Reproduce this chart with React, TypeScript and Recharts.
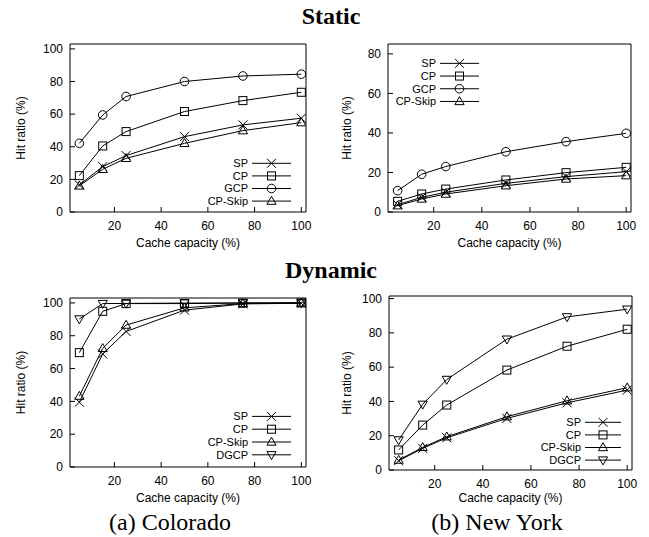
import React from 'react'
import { LineChart, Line, XAxis, YAxis, Legend } from 'recharts'

// cache capacity (%) on the x axis, shared by all four panels
const capacity = [5, 15, 25, 50, 75, 100]
const xTicks = [20, 40, 60, 80, 100]
const yTicks100 = [0, 20, 40, 60, 80, 100]
const yTicks80 = [0, 10, 20, 30, 40, 50, 60, 70, 80]

// Static, Colorado
const staticCoSP = [16.6, 27.8, 34.6, 46.2, 53.4, 57.5]
const staticCoCP = [22.3, 40.5, 49.3, 61.6, 68.3, 73.4]
const staticCoGCP = [42.1, 59.5, 70.8, 80.0, 83.4, 84.5]
const staticCoSkip = [16.0, 26.2, 32.9, 42.1, 49.9, 54.8]

// Static, New York
const staticNySP = [3.7, 7.4, 10.0, 14.5, 17.9, 20.4]
const staticNyCP = [5.4, 9.1, 11.6, 16.2, 19.9, 22.6]
const staticNyGCP = [10.8, 19.1, 23.0, 30.5, 35.6, 39.8]
const staticNySkip = [3.2, 6.6, 9.1, 13.3, 16.7, 18.4]

// Dynamic, Colorado
const dynCoSP = [39.5, 68.9, 82.6, 95.6, 99.4, 99.8]
const dynCoCP = [69.7, 94.9, 99.6, 99.6, 99.9, 100]
const dynCoSkip = [43.2, 72.3, 86.5, 97.0, 99.6, 100]
const dynCoDGCP = [90.2, 99.6, 99.7, 99.9, 100, 100]

// Dynamic, New York
const dynNySP = [5.4, 12.6, 18.8, 30.1, 39.2, 46.6]
const dynNyCP = [11.7, 26.2, 37.9, 58.3, 72.2, 82.1]
const dynNySkip = [5.8, 13.2, 19.4, 31.1, 40.4, 48.0]
const dynNyDGCP = [17.5, 38.3, 52.8, 76.3, 89.3, 93.8]

type Shape = 'cross' | 'square' | 'circle' | 'up' | 'down'

interface Series {
  name: string
  values: number[]
  shape: Shape
}

const SANS = '"Liberation Sans", Arial, Helvetica, sans-serif'
const SERIF = '"Liberation Serif", "Times New Roman", serif'

function Marker({ shape, cx, cy }: { shape: Shape; cx: number; cy: number }) {
  const common = { stroke: '#000', strokeWidth: 1, fill: 'none' }
  switch (shape) {
    case 'cross':
      return (
        <path
          d={`M${cx - 4.5},${cy - 4.5}L${cx + 4.5},${cy + 4.5}M${cx - 4.5},${cy + 4.5}L${cx + 4.5},${cy - 4.5}`}
          {...common}
        />
      )
    case 'square':
      return <rect x={cx - 4} y={cy - 4} width={8} height={8} {...common} />
    case 'circle':
      return <circle cx={cx} cy={cy} r={4.3} {...common} />
    case 'up':
      return <path d={`M${cx},${cy - 4.8}L${cx + 4.6},${cy + 3.2}L${cx - 4.6},${cy + 3.2}Z`} {...common} />
    case 'down':
      return <path d={`M${cx},${cy + 4.8}L${cx + 4.6},${cy - 3.2}L${cx - 4.6},${cy - 3.2}Z`} {...common} />
  }
}

function LegendSvg({ series, textW, lineLen, rowH }: { series: Series[]; textW: number; lineLen: number; rowH: number }) {
  const w = textW + 4 + lineLen
  return (
    <svg width={w} height={rowH * series.length} style={{ display: 'block', overflow: 'visible' }}>
      {series.map((s, i) => {
        const cy = rowH * (i + 0.5)
        return (
          <g key={s.name}>
            <text x={textW} y={cy} dy="0.36em" textAnchor="end" fontSize={11} fontFamily={SANS} fill="#000">
              {s.name}
            </text>
            <line x1={textW + 4} x2={w} y1={cy} y2={cy} stroke="#000" strokeWidth={1} />
            <Marker shape={s.shape} cx={textW + 4 + lineLen / 2} cy={cy} />
          </g>
        )
      })}
    </svg>
  )
}

interface PanelProps {
  left: number
  top: number
  width: number
  height: number
  plot: { x0: number; y0: number; x1: number; y1: number }
  yDomain: [number, number]
  yTicks: number[]
  yLabelX: number
  series: Series[]
  legend: { textRight: number; firstRow: number; rowH: number; lineLen: number }
}

function Panel({ left, top, width, height, plot, yDomain, yTicks, yLabelX, series, legend }: PanelProps) {
  const data = capacity.map((x, i) => {
    const row: Record<string, number> = { x }
    series.forEach((s) => {
      row[s.name] = s.values[i]
    })
    return row
  })
  const textW = 48
  // gnuplot style: ticks point inwards, full box with mirrored ticks
  const axisProps = { stroke: '#000', allowDataOverflow: true, tickSize: -5 }
  return (
    <div style={{ position: 'absolute', left, top }}>
      <LineChart
        width={width}
        height={height}
        data={data}
        margin={{ top: plot.y0 - top - 1, right: left + width - plot.x1 - 1, bottom: 0, left: 0 }}
        style={{ fontFamily: SANS }}
      >
        <XAxis
          xAxisId="b"
          dataKey="x"
          type="number"
          domain={[1, 102]}
          ticks={xTicks}
          height={top + height - plot.y1}
          tickMargin={14}
          tick={{ fill: '#000', fontSize: 12 }}
          label={{ value: 'Cache capacity (%)', position: 'insideBottom', offset: 3, fill: '#000', fontSize: 12 }}
          {...axisProps}
        />
        <XAxis xAxisId="t" orientation="top" type="number" domain={[1, 102]} ticks={xTicks} height={1} tick={false} {...axisProps} />
        <YAxis
          yAxisId="l"
          type="number"
          domain={yDomain}
          ticks={yTicks}
          width={plot.x0 - left}
          tickMargin={12}
          tick={{ fill: '#000', fontSize: 12 }}
          label={{
            value: 'Hit ratio (%)',
            angle: -90,
            position: 'insideLeft',
            offset: yLabelX - left,
            fill: '#000',
            fontSize: 12,
            style: { textAnchor: 'middle' },
          }}
          {...axisProps}
        />
        <YAxis yAxisId="r" orientation="right" type="number" domain={yDomain} ticks={yTicks} width={1} tick={false} {...axisProps} />
        {series.map((s) => (
          <Line
            key={s.name}
            xAxisId="b"
            yAxisId="l"
            dataKey={s.name}
            type="linear"
            stroke="#000"
            strokeWidth={1}
            isAnimationActive={false}
            activeDot={false}
            dot={(p: any) => <Marker key={`${s.name}-${p.index}`} shape={s.shape} cx={p.cx} cy={p.cy} />}
          />
        ))}
        <Legend
          layout="vertical"
          align="center"
          verticalAlign="middle"
          wrapperStyle={{
            left: legend.textRight - textW - left,
            top: legend.firstRow - legend.rowH / 2 - top,
            width: 'auto',
            height: 'auto',
          }}
          content={() => <LegendSvg series={series} textW={textW} lineLen={legend.lineLen} rowH={legend.rowH} />}
        />
      </LineChart>
    </div>
  )
}

export default function App() {
  return (
    <div style={{ position: 'absolute', left: 0, top: 0, width: 649, height: 537, background: '#fff', overflow: 'hidden' }}>
      <svg width={649} height={537} style={{ position: 'absolute', left: 0, top: 0 }}>
        <g fontFamily={SERIF} fill="#000" textAnchor="middle">
          <text x={331} y={24} fontSize={24} fontWeight="bold">Static</text>
          <text x={331} y={278} fontSize={24} fontWeight="bold">Dynamic</text>
          <text x={170} y={530} fontSize={24}>(a) Colorado</text>
          <text x={497} y={530} fontSize={24}>(b) New York</text>
        </g>
      </svg>
      <Panel
        left={0}
        top={30}
        width={320}
        height={220}
        plot={{ x0: 70, y0: 44, x1: 306, y1: 212 }}
        yDomain={[0, 103]}
        yTicks={yTicks100}
        yLabelX={21}
        series={[
          { name: 'SP', values: staticCoSP, shape: 'cross' },
          { name: 'CP', values: staticCoCP, shape: 'square' },
          { name: 'GCP', values: staticCoGCP, shape: 'circle' },
          { name: 'CP-Skip', values: staticCoSkip, shape: 'up' },
        ]}
        legend={{ textRight: 248, firstRow: 163, rowH: 12.6, lineLen: 39 }}
      />
      <Panel
        left={325}
        top={30}
        width={324}
        height={220}
        plot={{ x0: 388, y0: 44, x1: 631, y1: 212 }}
        yDomain={[0, 85]}
        yTicks={yTicks80}
        yLabelX={347}
        series={[
          { name: 'SP', values: staticNySP, shape: 'cross' },
          { name: 'CP', values: staticNyCP, shape: 'square' },
          { name: 'GCP', values: staticNyGCP, shape: 'circle' },
          { name: 'CP-Skip', values: staticNySkip, shape: 'up' },
        ]}
        legend={{ textRight: 436, firstRow: 63.5, rowH: 12.7, lineLen: 39 }}
      />
      <Panel
        left={0}
        top={283}
        width={320}
        height={222}
        plot={{ x0: 70, y0: 298, x1: 306, y1: 467 }}
        yDomain={[0, 103]}
        yTicks={yTicks100}
        yLabelX={21}
        series={[
          { name: 'SP', values: dynCoSP, shape: 'cross' },
          { name: 'CP', values: dynCoCP, shape: 'square' },
          { name: 'CP-Skip', values: dynCoSkip, shape: 'up' },
          { name: 'DGCP', values: dynCoDGCP, shape: 'down' },
        ]}
        legend={{ textRight: 248, firstRow: 416.7, rowH: 12.8, lineLen: 39 }}
      />
      <Panel
        left={325}
        top={283}
        width={324}
        height={222}
        plot={{ x0: 389, y0: 296, x1: 632, y1: 470 }}
        yDomain={[0, 101.5]}
        yTicks={yTicks100}
        yLabelX={347}
        series={[
          { name: 'SP', values: dynNySP, shape: 'cross' },
          { name: 'CP', values: dynNyCP, shape: 'square' },
          { name: 'CP-Skip', values: dynNySkip, shape: 'up' },
          { name: 'DGCP', values: dynNyDGCP, shape: 'down' },
        ]}
        legend={{ textRight: 581, firstRow: 422.5, rowH: 12.6, lineLen: 36 }}
      />
    </div>
  )
}
